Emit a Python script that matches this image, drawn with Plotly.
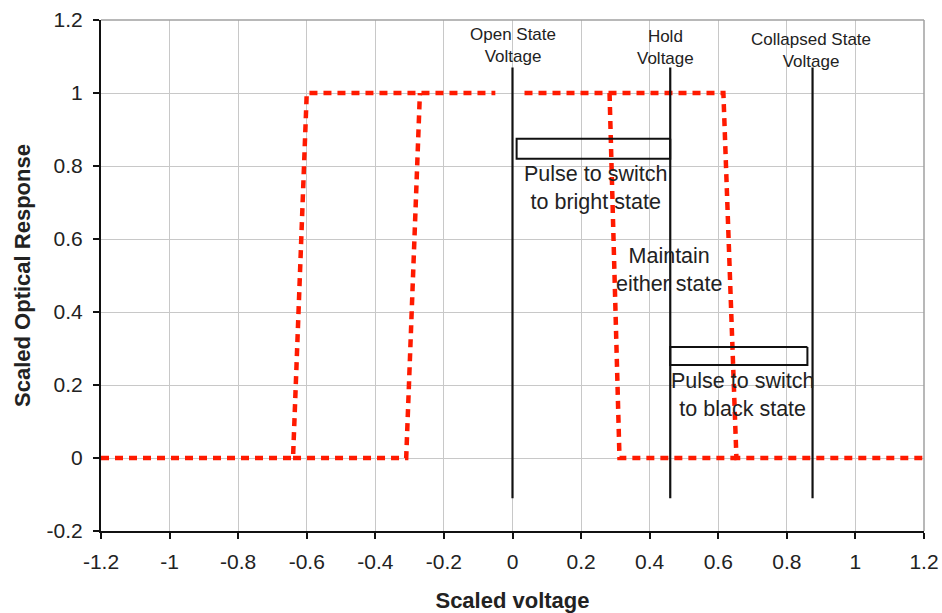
import plotly.graph_objects as go

# ---- data ----
# red dotted optical response (hysteresis loops); None breaks the path
resp_x = [-1.2, -0.64, -0.60, -0.05, None,
          -0.64, -0.31, -0.27, None,
          0.035, 0.615, 0.653, 1.2, None,
          0.283, 0.312, 0.653]
resp_y = [0, 0, 1, 1, None,
          0, 0, 1, None,
          1, 1, 0, 0, None,
          1, 0, 0]

# vertical voltage markers
marker_x = [0.0, 0.46, 0.875]
marker_bottom = -0.11
marker_top = 1.07

# pulse boxes: [x0, x1, y0, y1]
bright_box = [0.012, 0.46, 0.82, 0.875]
black_box = [0.46, 0.86, 0.255, 0.304]

x_ticks = [-1.2, -1.0, -0.8, -0.6, -0.4, -0.2, 0.0, 0.2, 0.4, 0.6, 0.8, 1.0, 1.2]
x_tick_text = ["-1.2", "-1", "-0.8", "-0.6", "-0.4", "-0.2", "0", "0.2", "0.4", "0.6", "0.8", "1", "1.2"]
y_ticks = [-0.2, 0.0, 0.2, 0.4, 0.6, 0.8, 1.0, 1.2]
y_tick_text = ["-0.2", "0", "0.2", "0.4", "0.6", "0.8", "1", "1.2"]

# text labels: (text, x, y, size)
labels = [
    ("Open State<br>Voltage", 0.0, 1.13, 17),
    ("Hold<br>Voltage", 0.446, 1.125, 17),
    ("Collapsed State<br>Voltage", 0.871, 1.116, 17),
    ("Pulse to switch<br>to bright state", 0.242, 0.741, 21.5),
    ("Maintain<br>either state", 0.455, 0.515, 21.5),
    ("Pulse to switch<br>to black state", 0.670, 0.173, 21.5),
]

FONT = "Liberation Sans, Arial, Helvetica, sans-serif"
TXT = "#222222"

fig = go.Figure()

fig.add_trace(go.Scatter(
    x=resp_x, y=resp_y, mode="lines",
    line=dict(color="#ff1a00", width=4.5, dash="8px,6px"),
    connectgaps=False, hoverinfo="skip", showlegend=False))

mx, my = [], []
for v in marker_x:
    mx += [v, v, None]
    my += [marker_bottom, marker_top, None]
fig.add_trace(go.Scatter(x=mx, y=my, mode="lines",
                         line=dict(color="#111111", width=2.2),
                         hoverinfo="skip", showlegend=False))

for b in (bright_box, black_box):
    x0, x1, y0, y1 = b
    fig.add_trace(go.Scatter(x=[x1, x0, x0, x1, x1], y=[y1, y1, y0, y0, y1],
                             mode="lines", line=dict(color="#111111", width=2),
                             hoverinfo="skip", showlegend=False))

for t, x, y, s in labels:
    fig.add_annotation(x=x, y=y, xref="x", yref="y", text=t, showarrow=False,
                       font=dict(family=FONT, size=s, color=TXT),
                       xanchor="center", yanchor="middle", align="center")

# top/right frame
fig.add_shape(type="line", xref="paper", yref="paper", x0=0, x1=1, y0=1, y1=1,
              line=dict(color="#a0a0a0", width=1.5))
fig.add_shape(type="line", xref="paper", yref="paper", x0=1, x1=1, y0=0, y1=1,
              line=dict(color="#a0a0a0", width=1.5))

fig.update_layout(
    width=942, height=613,
    margin=dict(l=101, r=18, t=20, b=82, autoexpand=False),
    paper_bgcolor="white", plot_bgcolor="white",
    font=dict(family=FONT, color=TXT),
    xaxis=dict(
        range=[-1.2, 1.2], tickvals=x_ticks, ticktext=x_tick_text,
        showgrid=True, gridcolor="#c8c8c8", gridwidth=1, zeroline=False,
        showline=True, linecolor="#111111", linewidth=2,
        ticks="outside", ticklen=6, tickcolor="#111111", tickwidth=2,
        tickfont=dict(family=FONT, size=21, color=TXT),
        ticklabelstandoff=5, automargin=False,
        title=dict(text="<b>Scaled voltage</b>", standoff=20,
                   font=dict(family=FONT, size=22, color=TXT)),
    ),
    yaxis=dict(
        range=[-0.2, 1.2], tickvals=y_ticks, ticktext=y_tick_text,
        showgrid=True, gridcolor="#c8c8c8", gridwidth=1, zeroline=False,
        showline=True, linecolor="#111111", linewidth=2,
        ticks="outside", ticklen=6, tickcolor="#111111", tickwidth=2,
        tickfont=dict(family=FONT, size=21, color=TXT),
        ticklabelstandoff=6, automargin=False,
        title=dict(text="<b>Scaled Optical Response</b>", standoff=10,
                   font=dict(family=FONT, size=22, color=TXT)),
    ),
)

fig.write_html("out.html", config={"displayModeBar": False},
               post_script="document.body.style.margin='0';document.body.style.overflow='hidden';")
